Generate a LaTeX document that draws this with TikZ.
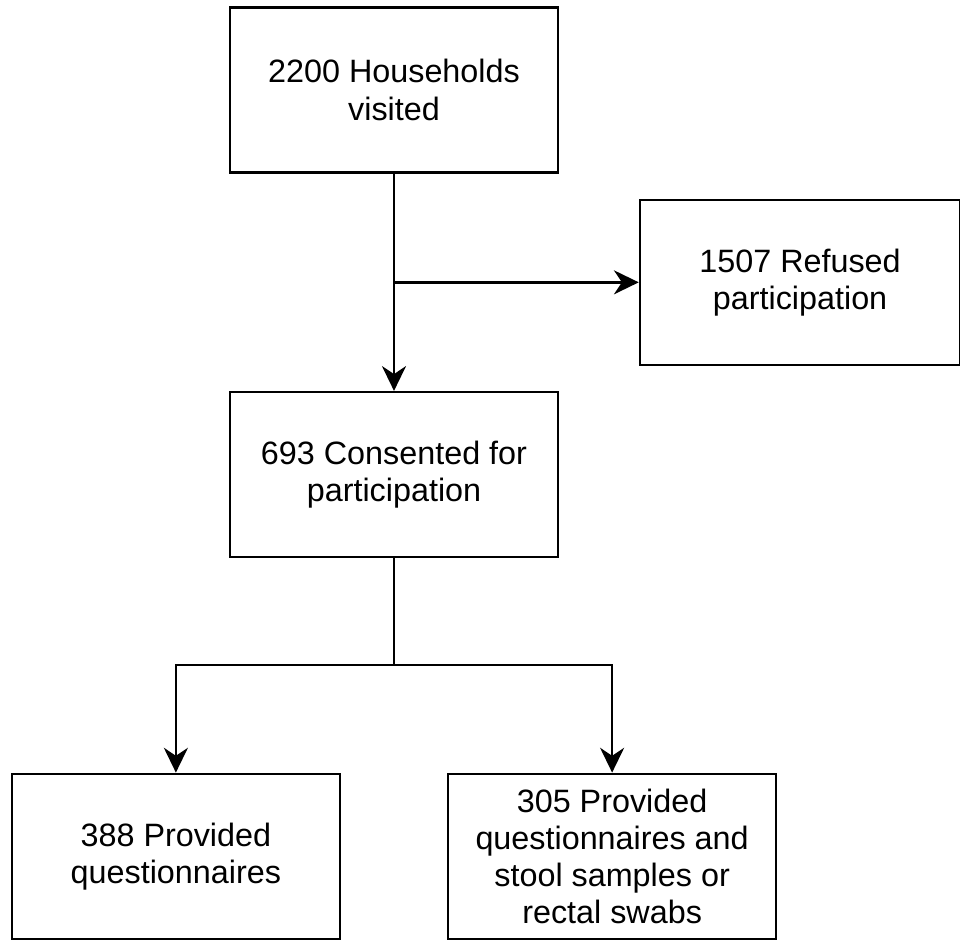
\documentclass[tikz,border=0pt]{standalone}
\usepackage{fontspec}
\setmainfont{Liberation Sans}
\usetikzlibrary{positioning,calc,arrows.meta}
\newcommand{\HouseholdFlowSize}{8.2}

\begin{document}
\begin{tikzpicture}[
		box/.style={draw, line width=1.8pt, minimum width=\HouseholdFlowSize cm, minimum height=\HouseholdFlowSize*0.503 cm, align=center, inner sep=0pt, font=\fontsize{23}{26.5}\selectfont},
		flow/.style={line width=1.8pt, -{Stealth[length=0.62cm, width=0.6cm, inset=0.2cm]}},
	]
		\useasboundingbox (0,0) rectangle (24cm,-23.55cm);
		\node[box] (house) at (9.85cm,-2.25cm) {2200 Households\\visited};
		\node[box, below=\HouseholdFlowSize*0.662 cm of house] (consent) {693 Consented for\\participation};
		\node[box, minimum width=\HouseholdFlowSize*0.976 cm] (refused) at ($(house)!0.5!(consent) + (\HouseholdFlowSize*1.238 cm, 0)$) {1507 Refused\\participation};
		\node[box, below=\HouseholdFlowSize*0.653 cm of consent, xshift=-\HouseholdFlowSize*0.665 cm] (quest) {388 Provided\\questionnaires};
		\node[box, below=\HouseholdFlowSize*0.653 cm of consent, xshift=\HouseholdFlowSize*0.665 cm] (stool) {305 Provided\\questionnaires and\\stool samples or\\rectal swabs};
		\coordinate (fork) at (house.south |- refused.west);
		\coordinate[below=\HouseholdFlowSize*0.325 cm of consent] (split);
		\draw[flow] (house.south) -- (consent.north);
		\draw[flow] (fork) -- (refused.west);
		\draw[line width=1.8pt] (consent.south) -- (split);
		\draw[flow] (split) -| (quest.north);
		\draw[flow] (split) -| (stool.north);
	\end{tikzpicture}
\end{document}
